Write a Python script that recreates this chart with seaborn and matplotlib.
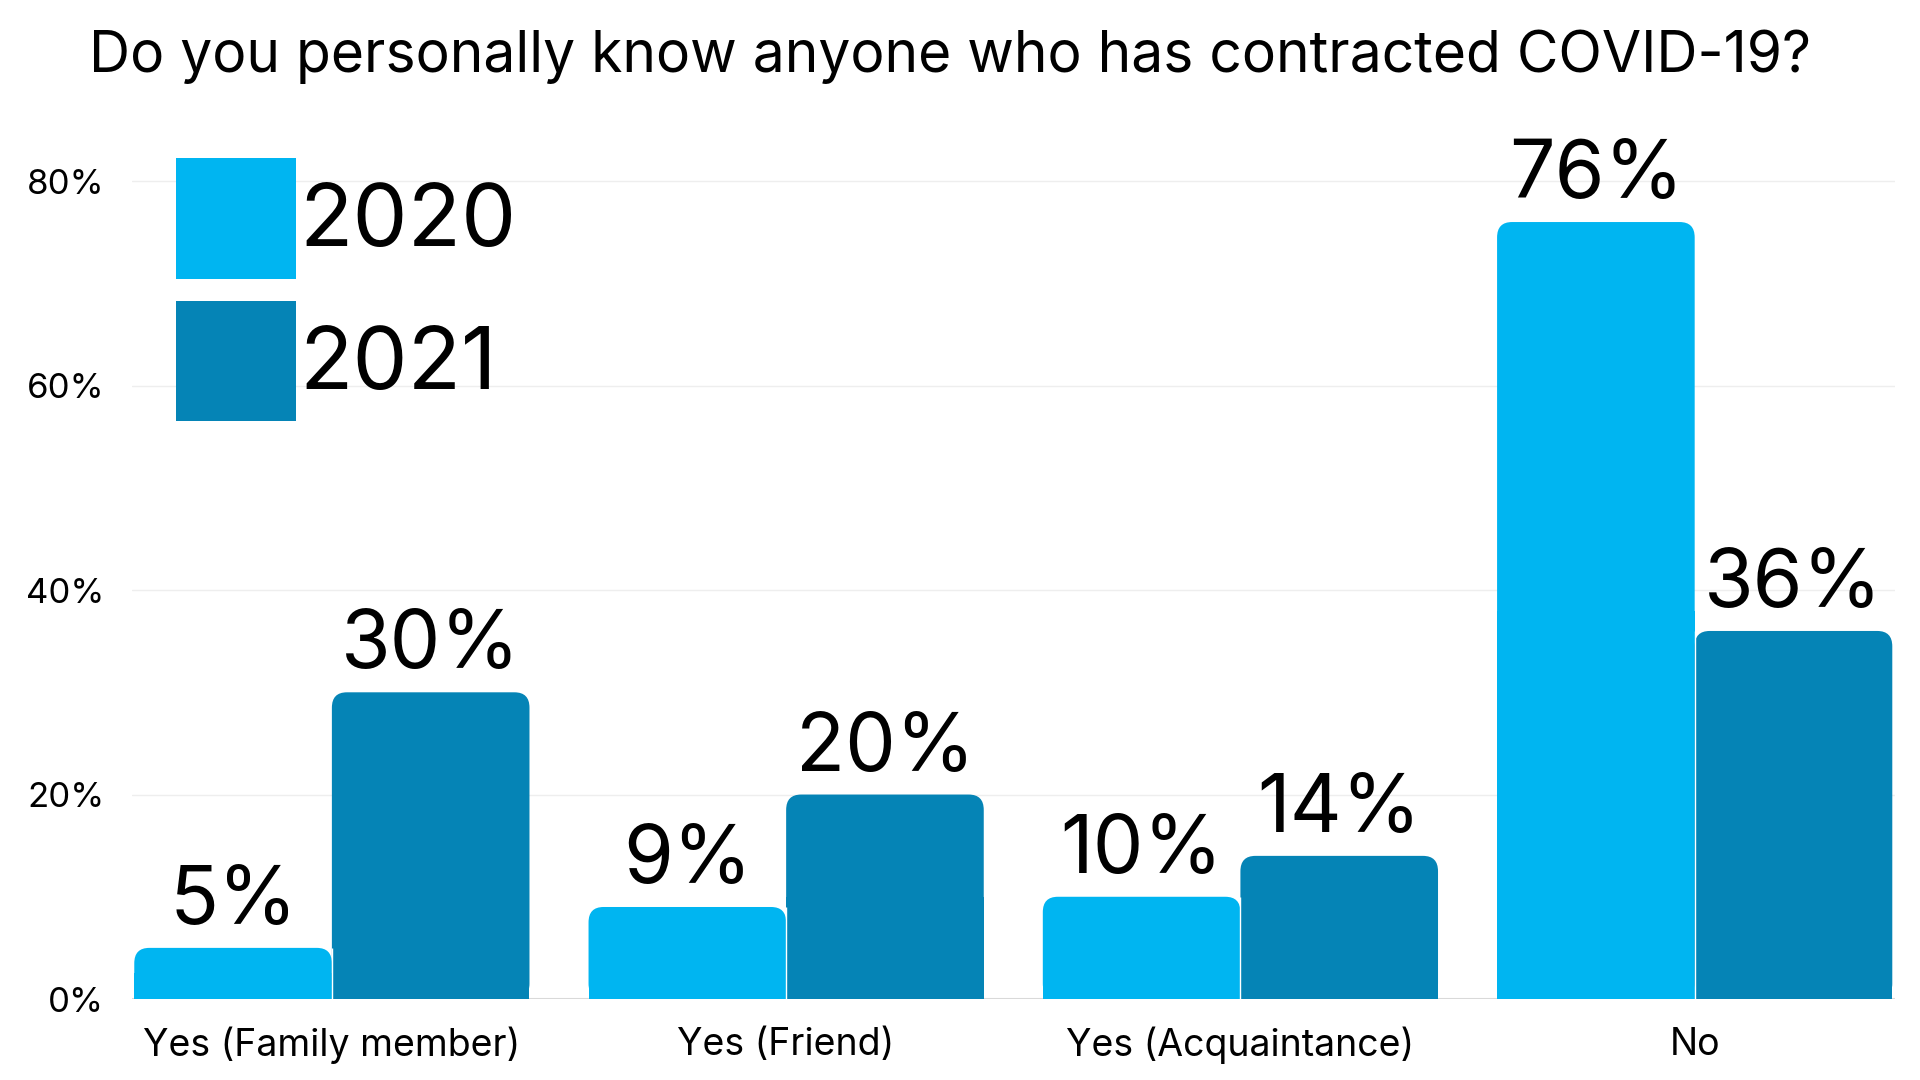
import pandas as pd
import numpy as np
import matplotlib.pyplot as plt
import seaborn as sns
from matplotlib.patches import FancyBboxPatch

## Daten
categories = ['Yes (Family member)', 'Yes (Friend)', 'Yes (Acquaintance)', 'No']
years = ['2020', '2021']
values_2020 = [5, 9, 10, 76]
values_2021 = [30, 20, 14, 36]
colors = ['#00B5F1', '#0584B6']

df = pd.DataFrame({
    'answer': categories * 2,
    'year': [years[0]] * 4 + [years[1]] * 4,
    'pct': values_2020 + values_2021,
})

sns.set_theme(style='white')
plt.rcParams['font.family'] = ['Inter', 'DejaVu Sans']
plt.rcParams['text.color'] = 'black'

fig = plt.figure(figsize=(19.2, 10.8), dpi=100)
ax = fig.add_axes([0.06875, 0.075, 0.918, 0.833])

sns.barplot(data=df, x='answer', y='pct', hue='year', palette=colors,
            width=0.87, gap=0, saturation=1, ax=ax, linewidth=0)

ax.set_ylim(0, 88)
ax.set_xlim(-0.44, 3.44)
ax.set_yticks([0, 20, 40, 60, 80])
ax.set_yticklabels(['0%', '20%', '40%', '60%', '80%'])
ax.grid(axis='y', color='#EEEEEE', linewidth=1)
ax.set_axisbelow(True)
sns.despine(ax=ax, left=True, bottom=True)
ax.axhline(0, color='#D5D5D5', linewidth=1.5, zorder=0.5)
ax.set_xlabel('')
ax.set_ylabel('')
ax.tick_params(axis='y', labelsize=25, pad=20, length=0, labelcolor='black')
ax.tick_params(axis='x', labelsize=27, pad=20, length=0, labelcolor='black')

# Wertbeschriftungen
for cont in ax.containers:
    ax.bar_label(cont, labels=[f'{v:.0f}%' for v in cont.datavalues],
                 fontsize=58, padding=5, color='black')

# abgerundete Ecken oben
rx = 0.033
ry = 1.5
for cont in ax.containers:
    for p in cont:
        x, y = p.get_x(), p.get_y()
        w, h = p.get_width(), p.get_height()
        fb = FancyBboxPatch((x, y), w, h,
                            boxstyle=f'round,pad=0,rounding_size={rx}',
                            mutation_aspect=ry / rx,
                            facecolor=p.get_facecolor(), edgecolor='none',
                            linewidth=0, zorder=p.get_zorder())
        ax.add_patch(fb)
        p.set_height(h / 2)

# Trennlinien zwischen den Balken eines Paares
for i in range(len(categories)):
    p = ax.containers[1][i]
    ax.plot([p.get_x(), p.get_x()], [0, min(values_2020[i], values_2021[i])],
            color='white', linewidth=1, zorder=3, solid_capstyle='butt')

# Legende
handles, labels = ax.get_legend_handles_labels()
ax.legend(handles, labels, loc='upper left', bbox_to_anchor=(0.0915, 0.854),
          bbox_transform=fig.transFigure, frameon=False, fontsize=63,
          handlelength=1.37, handleheight=1.75, handletextpad=0.04,
          labelspacing=0.25, borderpad=0, borderaxespad=0, labelcolor='black')

fig.text(0.495, 1 - 57 / 1080, 'Do you personally know anyone who has contracted COVID-19?',
         ha='center', va='center', fontsize=41, color='black')

fig.savefig('out.png', dpi=100, facecolor='white')
